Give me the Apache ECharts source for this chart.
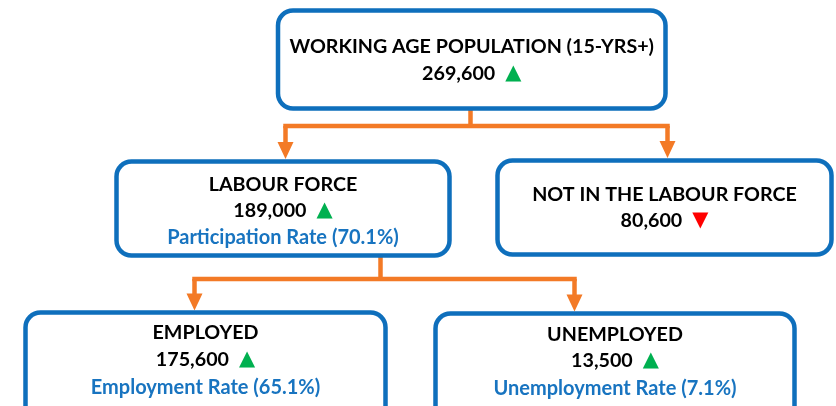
<!DOCTYPE html>
<html>
<head>
<meta charset="utf-8">
<script src="https://cdn.jsdelivr.net/npm/echarts@6/dist/echarts.min.js"></script>
<style>
html,body{margin:0;padding:0;background:#fff;}
#main{width:836px;height:406px;}
</style>
</head>
<body>
<div id="main"></div>
<script>
// ---- data ----
const nodeTitles = ['WORKING AGE POPULATION (15-YRS+)', 'LABOUR FORCE', 'NOT IN THE LABOUR FORCE', 'EMPLOYED', 'UNEMPLOYED'];
const nodeValues = [269600, 189000, 80600, 175600, 13500];
const nodeTrends = ['up', 'up', 'down', 'up', 'up'];
const rateNames = ['', 'Participation Rate', '', 'Employment Rate', 'Unemployment Rate'];
const rateValues = [null, 70.1, null, 65.1, 7.1];

// ---- layout (positions & sizes) ----
const boxes = [
  {x1: 278, y1: 10.5, x2: 665.5, y2: 108.5, lines: [47, 73.5]},
  {x1: 116.5, y1: 161.5, x2: 449.5, y2: 255.5, lines: [184.5, 211, 238]},
  {x1: 497.5, y1: 160.5, x2: 831.5, y2: 254.5, lines: [195, 221]},
  {x1: 25.5, y1: 312.5, x2: 385.5, y2: 430, lines: [333, 360, 388]},
  {x1: 435.5, y1: 313.5, x2: 794.5, y2: 430, lines: [335, 361, 389]}
];
const connectors = [
  {from: 470.5, top: 108.5, bar: 126, xs: [285.5, 667.5], ends: [159, 158]},
  {from: 380.5, top: 255.5, bar: 279, xs: [194.5, 574.5], ends: [310.5, 311.5]}
];

const BLUE = '#0E6FBC';
const TXTBLUE = '#1874C0';
const ORANGE = '#F37A26';
const FONT = 'Lato';
const FS = 19.7;
const FS_RATE = 20;

const fmt = v => v.toLocaleString('en-US');

const graphic = [];
// connectors
connectors.forEach(c => {
  const xmin = Math.min(...c.xs), xmax = Math.max(...c.xs);
  graphic.push({type: 'polyline', shape: {points: [[c.from, c.top], [c.from, c.bar]]},
    style: {stroke: ORANGE, lineWidth: 4.5, fill: null}});
  graphic.push({type: 'polyline', shape: {points: [[xmin, c.bar], [xmax, c.bar]]},
    style: {stroke: ORANGE, lineWidth: 4.5, fill: null, lineCap: 'square'}});
  c.xs.forEach((x, i) => {
    const end = c.ends[i];
    graphic.push({type: 'polyline', shape: {points: [[x, c.bar], [x, end - 15]]},
      style: {stroke: ORANGE, lineWidth: 4.5, fill: null}});
    graphic.push({type: 'polygon', shape: {points: [[x - 8, end - 17], [x + 8, end - 17], [x, end]]},
      style: {fill: ORANGE}});
  });
});
// boxes
boxes.forEach((b, i) => {
  graphic.push({type: 'rect', shape: {x: b.x1, y: b.y1, width: b.x2 - b.x1, height: b.y2 - b.y1, r: 15},
    style: {fill: '#fff', stroke: BLUE, lineWidth: 4.5}});
  const cx = (b.x1 + b.x2) / 2;
  graphic.push({type: 'text', x: cx, y: b.lines[0], style: {
    text: nodeTitles[i], fill: '#000', font: `bold ${FS}px ${FONT}`, align: 'center', verticalAlign: 'middle'}});
  const tri = nodeTrends[i] === 'up' ? '{up|▲}' : '{dn|▼}';
  graphic.push({type: 'text', x: cx, y: b.lines[1], style: {
    text: '{v|' + fmt(nodeValues[i]) + '}{s| }' + tri, align: 'center', verticalAlign: 'middle',
    rich: {
      v: {fontFamily: FONT, fontWeight: 'bold', fontSize: FS, fill: '#000', color: '#000'},
      s: {fontFamily: FONT, fontSize: 10, width: 10},
      up: {fontFamily: 'DejaVu Sans', fontSize: 21, fill: '#00B050', color: '#00B050'},
      dn: {fontFamily: 'DejaVu Sans', fontSize: 21, fill: '#FF0000', color: '#FF0000'}
    }}});
  if (rateValues[i] !== null) {
    graphic.push({type: 'text', x: cx, y: b.lines[2], style: {
      text: rateNames[i] + ' (' + rateValues[i].toFixed(1) + '%)', fill: TXTBLUE,
      font: `bold ${FS_RATE}px ${FONT}`, align: 'center', verticalAlign: 'middle'}});
  }
});

const chart = echarts.init(document.getElementById('main'), null, {renderer: 'canvas'});
chart.setOption({backgroundColor: '#fff', animation: false, graphic: graphic});
</script>
</body>
</html>
